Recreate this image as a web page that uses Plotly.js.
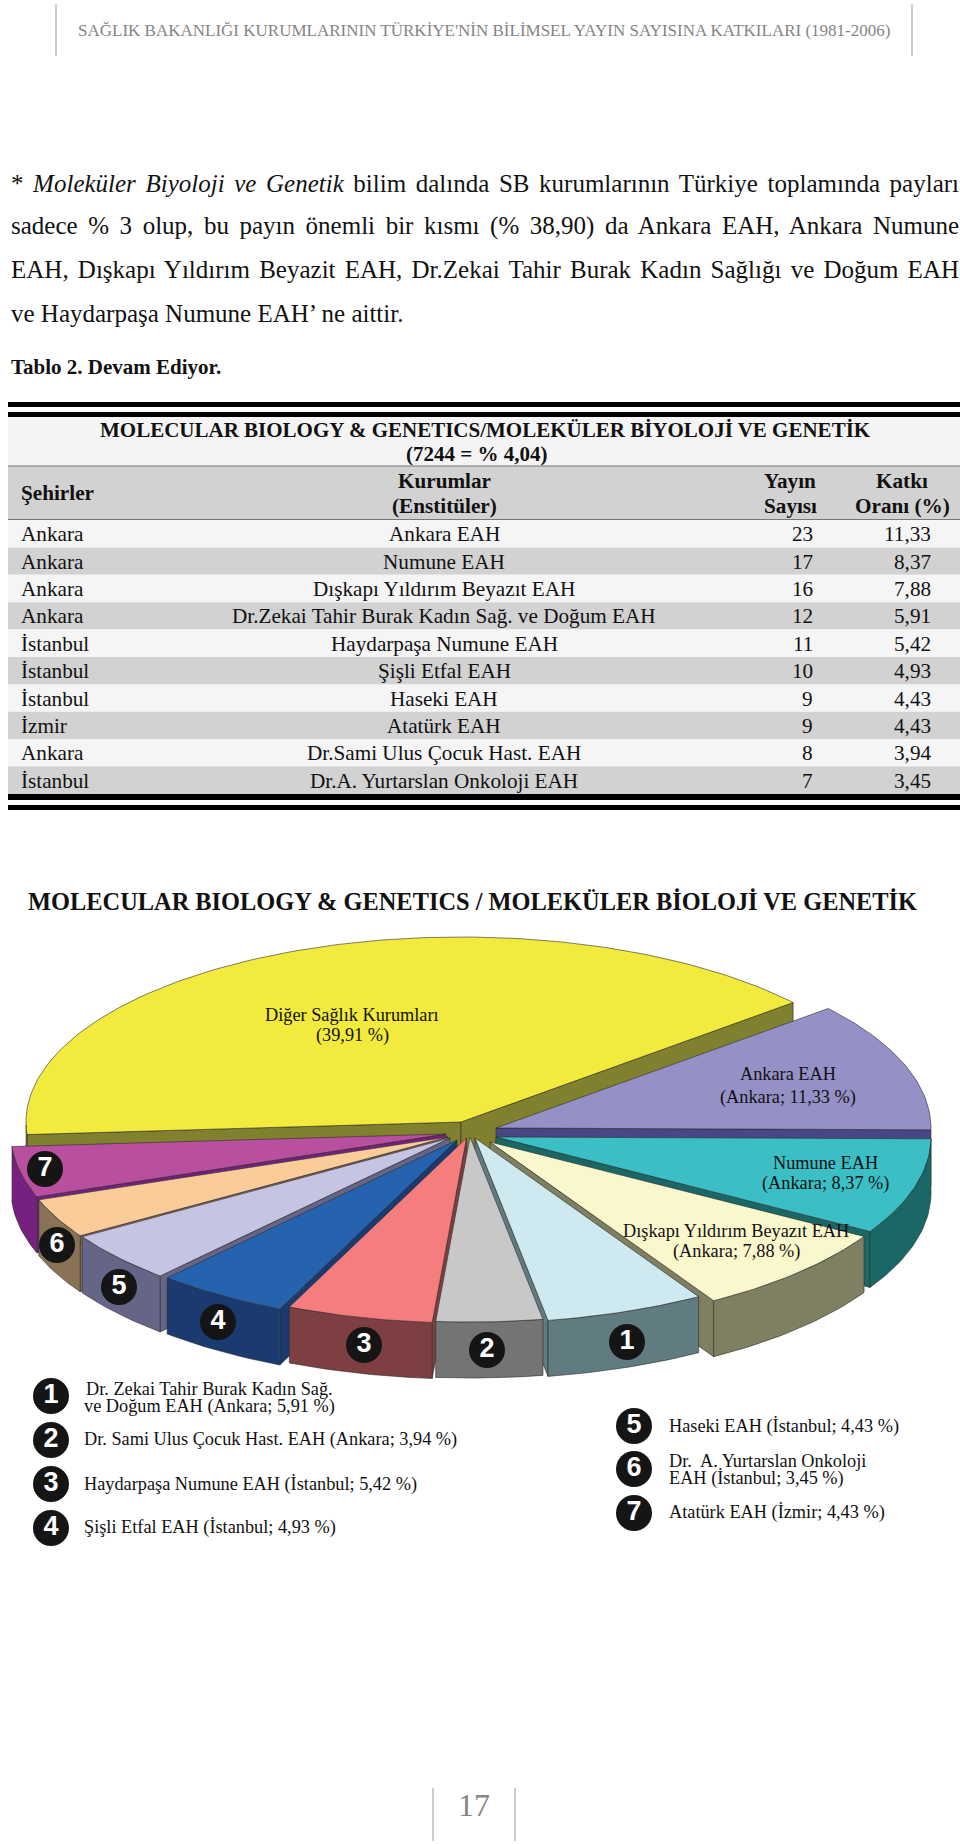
<!DOCTYPE html>
<html><head><meta charset="utf-8">
<script src="https://cdn.plot.ly/plotly-3.0.1.min.js"></script>
<style>html,body{margin:0;padding:0;background:#fff}#page{width:960px;height:1844px}</style>
</head><body><div id="page"></div>
<script>
// ---------- data read from the page ----------
const cities = ["Ankara","Ankara","Ankara","Ankara","İstanbul","İstanbul","İstanbul","İzmir","Ankara","İstanbul"];
const institutes = ["Ankara EAH","Numune EAH","Dışkapı Yıldırım Beyazıt EAH","Dr.Zekai Tahir Burak Kadın Sağ. ve Doğum EAH","Haydarpaşa Numune EAH","Şişli Etfal EAH","Haseki EAH","Atatürk EAH","Dr.Sami Ulus Çocuk Hast. EAH","Dr.A. Yurtarslan Onkoloji EAH"];
const pubCounts = [23,17,16,12,11,10,9,9,8,7];
const pubShares = ["11,33","8,37","7,88","5,91","5,42","4,93","4,43","4,43","3,94","3,45"];

const sliceNames = ["Diğer Sağlık Kurumları","Ankara EAH","Numune EAH","Dışkapı Yıldırım Beyazıt EAH","Dr. Zekai Tahir Burak Kadın Sağ. ve Doğum EAH","Dr. Sami Ulus Çocuk Hast. EAH","Haydarpaşa Numune EAH","Şişli Etfal EAH","Haseki EAH","Dr. A. Yurtarslan Onkoloji EAH","Atatürk EAH"];
const sliceValues = [39.91,11.33,8.37,7.88,5.91,3.94,5.42,4.93,4.43,3.45,4.43];

const bodyLines = [
  "* <i>Moleküler Biyoloji ve Genetik</i> bilim dalında SB kurumlarının Türkiye toplamında payları",
  "sadece % 3 olup, bu payın önemli bir kısmı (% 38,90) da Ankara EAH, Ankara Numune",
  "EAH, Dışkapı Yıldırım Beyazit EAH, Dr.Zekai Tahir Burak Kadın Sağlığı ve Doğum EAH",
  "ve Haydarpaşa Numune EAH’ ne aittir."
];

// ---------- styles and layout ----------
const serif = "Liberation Serif, Times New Roman, serif";
const sans = "Liberation Sans, Arial, sans-serif";
const topColors  = ["#f2ea3c","#9590c6","#3cbfc4","#fbf7cc","#cfe9f0","#c8c8c8","#f67d7e","#2663ae","#c5c4e3","#f9cc9a","#b84f9f"];
const sideColors = ["#80802f","#474785","#1a6866","#7f7f62","#617c80","#747474","#7d3f42","#1b3a70","#656687","#8a7257","#76217f"];
const apexX = [461,496,496,490,475,470,466.5,457,450,448,446];
const apexY = [1122,1128,1137,1142,1138,1137,1138,1140,1138,1137,1134];
const RX = 435, RY = 185, DEPTH = 56, START_ANGLE = 183.9;

const shapes = [], annotations = [], traces = [];
function rect(x0,y0,x1,y1,fill){shapes.push({type:"rect",xref:"x",yref:"y",x0,y0,x1,y1,fillcolor:fill,line:{width:0},layer:"below"});}
function vline(x,y0,y1,color){shapes.push({type:"line",xref:"x",yref:"y",x0:x,x1:x,y0,y1,line:{color,width:1},layer:"below"});}
function text(t,x,y,size,opt){opt=opt||{};annotations.push({text:t,x,y,xref:"x",yref:"y",showarrow:false,
  xanchor:opt.anchor||"center",yanchor:"middle",align:opt.anchor==="left"?"left":(opt.anchor==="right"?"right":"center"),
  borderpad:0,font:{family:opt.family||serif,size,color:opt.color||"#111"}});}

// page furniture
vline(56,4,56,"#9a9a9a"); vline(912,4,56,"#9a9a9a");
text("SAĞLIK BAKANLIĞI KURUMLARININ TÜRKİYE'NİN BİLİMSEL YAYIN SAYISINA KATKILARI (1981-2006)",484,30,17,{color:"#858585"});
vline(433,1788,1841,"#9a9a9a"); vline(515,1788,1841,"#9a9a9a");
text("17",474,1805,32,{color:"#858585"});

// body text
const bodyY = [183,226,269,313];
const firstBody = annotations.length;
bodyLines.forEach((l,i)=>text(l,10,bodyY[i],25,{anchor:"left"}));
text("<b>Tablo 2. Devam Ediyor.</b>",10,367,21,{anchor:"left"});

// table
const TX0=8, TX1=960, R0=520, RH=27.4, TF=21.2;
rect(TX0,402,TX1,407,"#000"); rect(TX0,412,TX1,417,"#000");
rect(TX0,417,TX1,466,"#f4f4f4");
rect(TX0,466,TX1,520,"#d2d2d2");
shapes.push({type:"line",xref:"x",yref:"y",x0:TX0,x1:TX1,y0:466,y1:466,line:{color:"#777",width:1},layer:"below"});
shapes.push({type:"line",xref:"x",yref:"y",x0:TX0,x1:TX1,y0:519.5,y1:519.5,line:{color:"#777",width:1},layer:"below"});
text("<b>MOLECULAR BIOLOGY & GENETICS/MOLEKÜLER BİYOLOJİ VE GENETİK</b>",485,430,21);
text("<b>(7244 = % 4,04)</b>",476,454,21);
text("<b>Şehirler</b>",20,493,TF,{anchor:"left"});
text("<b>Kurumlar</b>",444,481,TF); text("<b>(Enstitüler)</b>",444,506,TF);
text("<b>Yayın</b>",790,481,TF); text("<b>Sayısı</b>",790,506,TF);
text("<b>Katkı</b>",902,481,TF); text("<b>Oranı (%)</b>",902,506,TF);
cities.forEach((c,i)=>{
  const y0=R0+RH*i, yc=y0+RH/2+0.5;
  rect(TX0,y0,TX1,y0+RH,i%2?"#d2d2d2":"#f5f5f5");
  text(c,20,yc,TF,{anchor:"left"});
  text(institutes[i],444,yc,TF);
  text(String(pubCounts[i]),814,yc,TF,{anchor:"right"});
  text(pubShares[i],932,yc,TF,{anchor:"right"});
});
rect(TX0,794,TX1,800,"#000"); rect(TX0,805,TX1,810,"#000");

// chart title
text("<b>MOLECULAR BIOLOGY & GENETICS / MOLEKÜLER BİOLOJİ VE GENETİK</b>",472.5,901,24.4);

// exploded 3-D pie, computed from sliceValues
const rad = d=>d*Math.PI/180;
function poly(xs,ys,fill){traces.push({type:"scatter",mode:"lines",x:xs.concat(xs[0]),y:ys.concat(ys[0]),fill:"toself",fillcolor:fill,
  line:{color:"#2b2b2b",width:0.6},hoverinfo:"skip",showlegend:false,xaxis:"x",yaxis:"y"});}
let cum=0;
const slices = sliceValues.map((v,i)=>{const a0=START_ANGLE-cum*3.6; cum+=v; const a1=START_ANGLE-cum*3.6; return {i,v,a0,a1,mid:(a0+a1)/2};});
const order = slices.slice().sort((p,q)=>(apexY[p.i]-Math.sin(rad(p.mid))*RY)-(apexY[q.i]-Math.sin(rad(q.mid))*RY));
order.forEach(s=>{
  const ax=apexX[s.i], ay=apexY[s.i], side=sideColors[s.i];
  const rimX=a=>ax+RX*Math.cos(rad(a)), rimY=a=>ay-RY*Math.sin(rad(a));
  const face=a=>poly([ax,rimX(a),rimX(a),ax],[ay,rimY(a),rimY(a)+DEPTH,ay+DEPTH],side);
  if(Math.cos(rad(s.a0))<0) face(s.a0);
  if(Math.cos(rad(s.a1))>0) face(s.a1);
  const n=Math.max(8,Math.ceil((s.a0-s.a1)));
  const angs=[]; for(let k=0;k<=n;k++) angs.push(s.a0+(s.a1-s.a0)*k/n);
  const front=angs.filter(a=>Math.sin(rad(a))<0);
  if(front.length>1){
    poly(front.map(rimX).concat(front.slice().reverse().map(rimX)),
         front.map(rimY).concat(front.slice().reverse().map(a=>rimY(a)+DEPTH)),side);
  }
  poly([ax].concat(angs.map(rimX)),[ay].concat(angs.map(rimY)),topColors[s.i]);
});

// slice labels
const PS=18.3;
const lbl=(a,b,x,y1,y2)=>{text(a,x,y1,PS);text(b,x,y2,PS);};
lbl(sliceNames[0],"(39,91 %)",352,1015,1035);
lbl(sliceNames[1],"(Ankara; 11,33 %)",788,1074,1097);
lbl(sliceNames[2],"(Ankara; 8,37 %)",825,1163,1183);
lbl(sliceNames[3],"(Ankara; 7,88 %)",736,1231,1251);

// legend text
const L=83,Rt=668,LS=18.3;
text("Dr. Zekai Tahir Burak Kadın Sağ.",L+2,1389,LS,{anchor:"left"});
text("ve Doğum EAH (Ankara; 5,91 %)",L,1406,LS,{anchor:"left"});
text("Dr. Sami Ulus Çocuk Hast. EAH (Ankara; 3,94 %)",L,1439,LS,{anchor:"left"});
text("Haydarpaşa Numune EAH (İstanbul; 5,42 %)",L,1484,LS,{anchor:"left"});
text("Şişli Etfal EAH (İstanbul; 4,93 %)",L,1527,LS,{anchor:"left"});
text("Haseki EAH (İstanbul; 4,43 %)",Rt,1426,LS,{anchor:"left"});
text("Dr.  A. Yurtarslan Onkoloji",Rt,1461,LS,{anchor:"left"});
text("EAH (İstanbul; 3,45 %)",Rt,1478,LS,{anchor:"left"});
text("Atatürk EAH (İzmir; 4,43 %)",Rt,1512,LS,{anchor:"left"});

// numbered badges
const badgeNums = ["1","2","3","4","5","6","7","1","2","3","4","5","6","7"];
const badgeX = [627,487,364,218,119,57,45, 51,51,51,51,634,634,634];
const badgeY = [1342,1350,1345,1322,1287,1245,1169, 1396,1440,1484,1528,1426,1469,1513];
traces.push({type:"scatter",mode:"markers+text",x:badgeX,y:badgeY,text:badgeNums.map(s=>"<b>"+s+"</b>"),
  textposition:"middle center",textfont:{family:sans,size:27,color:"#fff"},
  marker:{size:36,color:"#151515",line:{width:0}},hoverinfo:"skip",showlegend:false,cliponaxis:false});

const layout={width:960,height:1844,margin:{l:0,r:0,t:0,b:0},paper_bgcolor:"#fff",plot_bgcolor:"#fff",showlegend:false,
  xaxis:{range:[0,960],visible:false,fixedrange:true},yaxis:{range:[1844,0],visible:false,fixedrange:true},
  shapes,annotations};
Plotly.newPlot("page",traces,layout,{displayModeBar:false,staticPlot:true}).then(()=>{
  // justify the three full body lines to the column width, as on the printed page
  const els=document.querySelectorAll(".annotation-text");
  [0,1,2].forEach(k=>{
    const el=els[firstBody+k]; if(!el) return;
    const words=el.textContent.trim().split(/\s+/).length-1;
    const w=el.getComputedTextLength();
    el.style.wordSpacing=((948-w)/words)+"px";
  });
});
</script></body></html>
